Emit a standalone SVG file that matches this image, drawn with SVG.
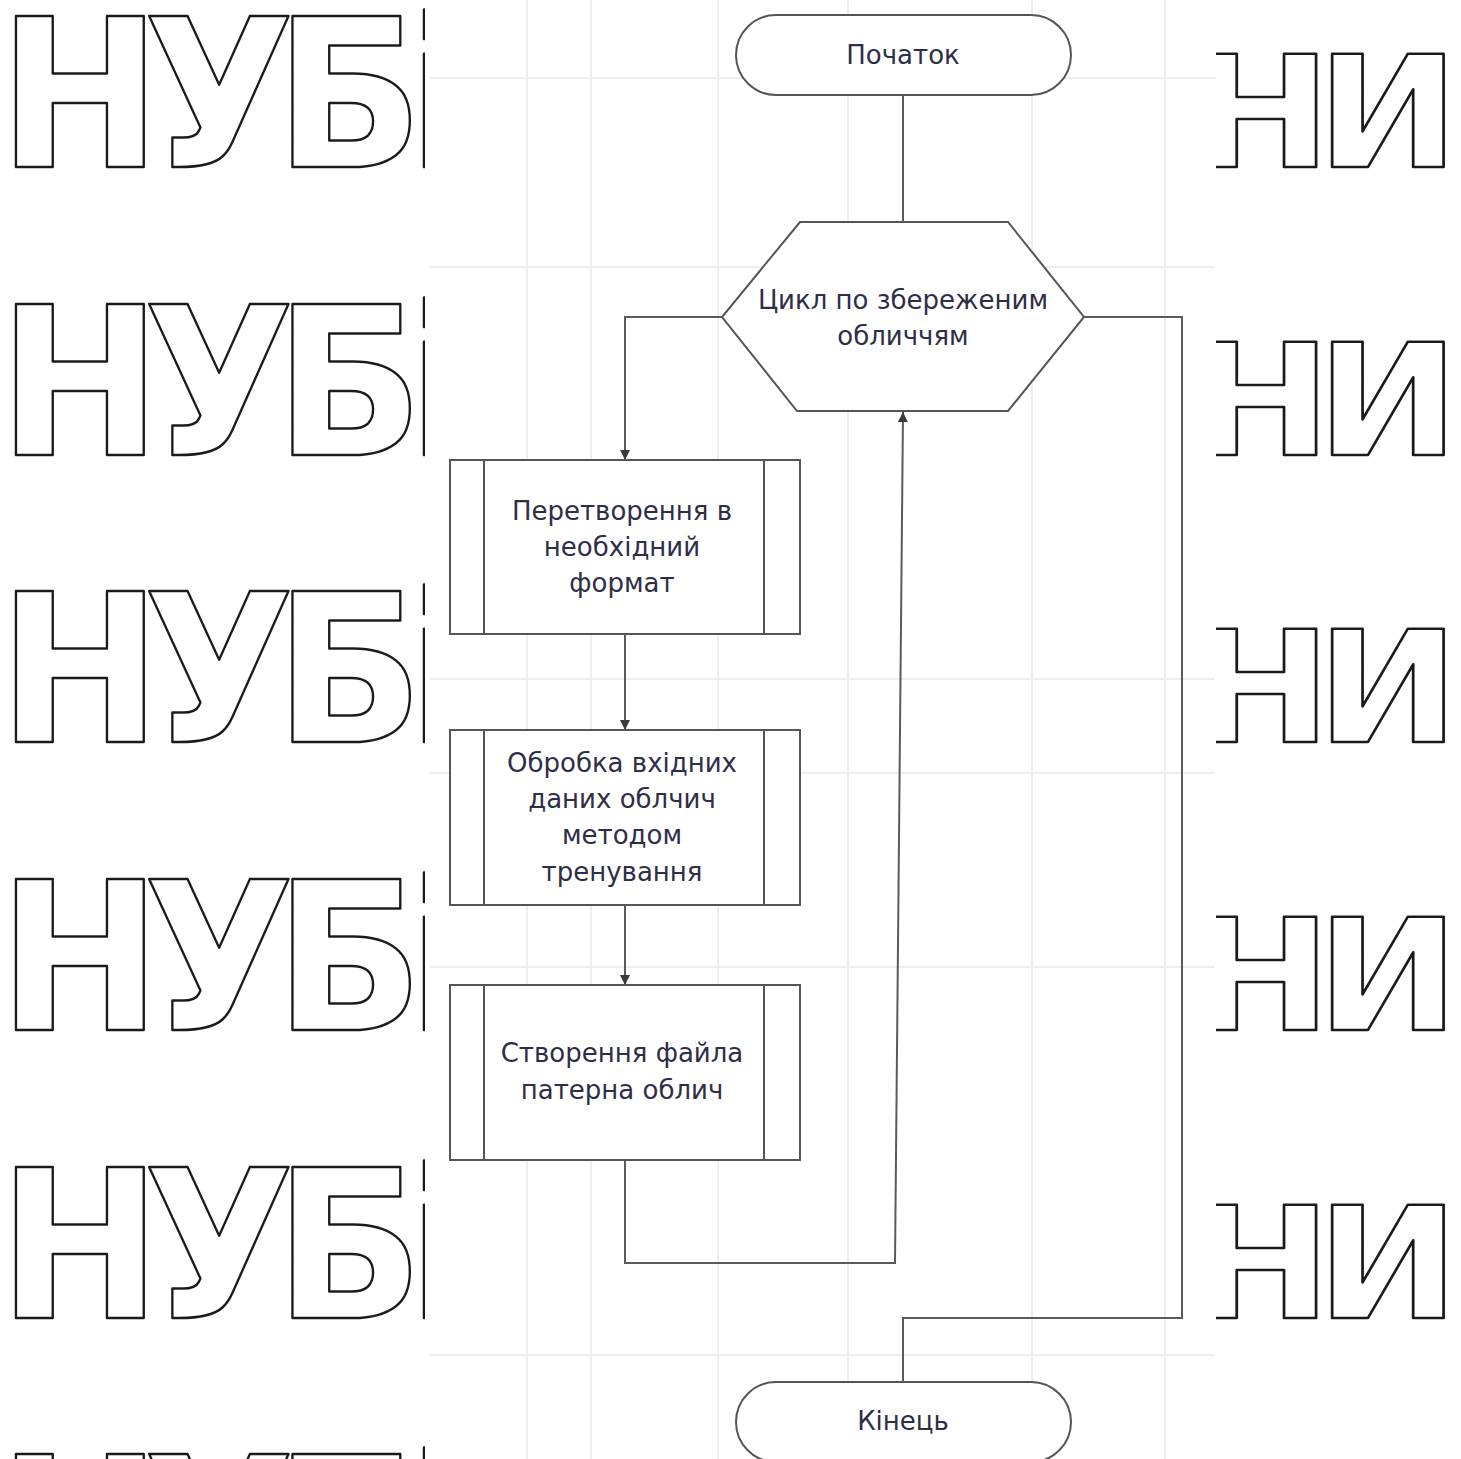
<svg xmlns="http://www.w3.org/2000/svg" width="1461" height="1459" viewBox="0 0 1461 1459">
  <style>
    .wm { font-family: "DejaVu Sans", "Liberation Sans", sans-serif; font-weight: bold; fill: #ffffff; stroke: #1a1a1a; stroke-width: 2.5; stroke-linejoin: round; }
    .grid line { stroke: #eeeeee; stroke-width: 2; }
    .shape { fill: #ffffff; stroke: #555555; stroke-width: 2; }
    .inner { stroke: #555555; stroke-width: 2; }
    .lbl { font-family: "DejaVu Sans", "Liberation Sans", sans-serif; font-size: 26px; fill: #2e2e48; text-anchor: middle; }
    .conn { fill: none; stroke: #5a5a5a; stroke-width: 2; }
  </style>
  <defs>
    <clipPath id="clipLeft"><rect x="0" y="0" width="425" height="1459"/></clipPath>
    <clipPath id="clipRight"><rect x="1216" y="0" width="245" height="1459"/></clipPath>
    <marker id="arrow" viewBox="0 0 10 10" refX="10" refY="5" markerWidth="10" markerHeight="10" markerUnits="userSpaceOnUse" orient="auto">
      <path d="M0,0 L10,5 L0,10 z" fill="#3a3a3a"/>
    </marker>
  </defs>

  <rect x="0" y="0" width="1461" height="1459" fill="#ffffff"/>

  <!-- background watermark, left column -->
  <g id="watermark-left" clip-path="url(#clipLeft)">
    <g transform="scale(0.95,1)">
      <text class="wm" font-size="206" x="-2 151 289 429" y="167">НУБі</text>
      <text class="wm" font-size="206" x="-2 151 289 429" y="455">НУБі</text>
      <text class="wm" font-size="206" x="-2 151 289 429" y="742">НУБі</text>
      <text class="wm" font-size="206" x="-2 151 289 429" y="1030">НУБі</text>
      <text class="wm" font-size="206" x="-2 151 289 429" y="1318">НУБі</text>
      <text class="wm" font-size="206" x="-2 151 289 429" y="1605">НУБі</text>
    </g>
  </g>

  <!-- background watermark, right column -->
  <g id="watermark-right" clip-path="url(#clipRight)">
    <g transform="translate(1189,0) scale(1.1,1)">
      <text class="wm" font-size="155" x="0 116" y="167">НИ</text>
      <text class="wm" font-size="155" x="0 116" y="455">НИ</text>
      <text class="wm" font-size="155" x="0 116" y="742">НИ</text>
      <text class="wm" font-size="155" x="0 116" y="1030">НИ</text>
      <text class="wm" font-size="155" x="0 116" y="1318">НИ</text>
    </g>
  </g>

  <!-- faint page grid behind the chart -->
  <g class="grid">
    <line x1="527" y1="0" x2="527" y2="1459"/>
    <line x1="591" y1="0" x2="591" y2="1459"/>
    <line x1="718" y1="0" x2="718" y2="1459"/>
    <line x1="848" y1="0" x2="848" y2="1459"/>
    <line x1="1032" y1="0" x2="1032" y2="1459"/>
    <line x1="1165" y1="0" x2="1165" y2="1459"/>
    <line x1="430" y1="78" x2="1215" y2="78"/>
    <line x1="430" y1="267" x2="1215" y2="267"/>
    <line x1="430" y1="679" x2="1215" y2="679"/>
    <line x1="430" y1="773" x2="1215" y2="773"/>
    <line x1="430" y1="967" x2="1215" y2="967"/>
    <line x1="430" y1="1355" x2="1215" y2="1355"/>
  </g>

  <!-- connectors -->
  <g id="connectors">
    <path class="conn" d="M903,95 L903,222"/>
    <path class="conn" d="M722,317 L625,317 L625,460" marker-end="url(#arrow)"/>
    <path class="conn" d="M625,634 L625,730" marker-end="url(#arrow)"/>
    <path class="conn" d="M625,905 L625,985" marker-end="url(#arrow)"/>
    <path class="conn" d="M625,1160 L625,1263 L895,1263 L903,412" marker-end="url(#arrow)"/>
    <path class="conn" d="M1084,317 L1182,317 L1182,1318 L903,1318 L903,1382"/>
  </g>

  <g id="start">
    <rect class="shape" x="736" y="15" width="335" height="80" rx="40" ry="40"/>
    <text class="lbl" x="903" y="64">Початок</text>
  </g>

  <g id="loop">
    <polygon class="shape" points="800,222 1008,222 1084,317 1008,411 797,411 722,317"/>
    <text class="lbl" x="903" y="309">Цикл по збереженим</text>
    <text class="lbl" x="903" y="345">обличчям</text>
  </g>

  <g id="convert">
    <rect class="shape" x="450" y="460" width="350" height="174"/>
    <line class="inner" x1="484" y1="460" x2="484" y2="634"/>
    <line class="inner" x1="764" y1="460" x2="764" y2="634"/>
    <text class="lbl" x="622" y="520">Перетворення в</text>
    <text class="lbl" x="622" y="556">необхідний</text>
    <text class="lbl" x="622" y="592">формат</text>
  </g>

  <g id="process">
    <rect class="shape" x="450" y="730" width="350" height="175"/>
    <line class="inner" x1="484" y1="730" x2="484" y2="905"/>
    <line class="inner" x1="764" y1="730" x2="764" y2="905"/>
    <text class="lbl" x="622" y="772">Обробка вхідних</text>
    <text class="lbl" x="622" y="808">даних облчич</text>
    <text class="lbl" x="622" y="844">методом</text>
    <text class="lbl" x="622" y="881">тренування</text>
  </g>

  <g id="pattern-file">
    <rect class="shape" x="450" y="985" width="350" height="175"/>
    <line class="inner" x1="484" y1="985" x2="484" y2="1160"/>
    <line class="inner" x1="764" y1="985" x2="764" y2="1160"/>
    <text class="lbl" x="622" y="1062">Створення файла</text>
    <text class="lbl" x="622" y="1099">патерна облич</text>
  </g>

  <g id="end">
    <rect class="shape" x="736" y="1382" width="335" height="80" rx="40" ry="40"/>
    <text class="lbl" x="903" y="1430">Кінець</text>
  </g>
</svg>
